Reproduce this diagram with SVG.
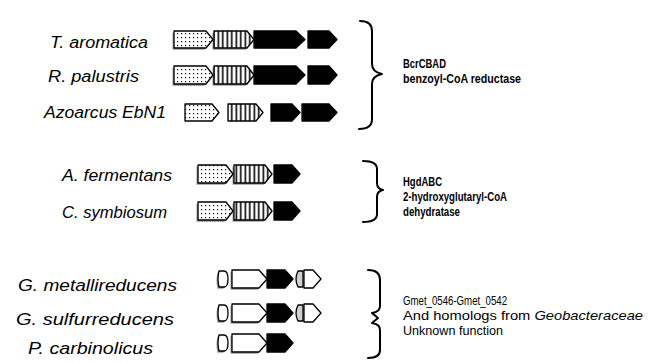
<svg xmlns="http://www.w3.org/2000/svg" width="649" height="363" viewBox="0 0 649 363">
<defs>
<pattern id="dots" width="4" height="4" patternUnits="userSpaceOnUse">
<rect width="4" height="4" fill="#fff"/>
<rect x="1" y="1" width="1.2" height="1.2" fill="#000"/>
</pattern>
<pattern id="stripes" width="4.5" height="6" patternUnits="userSpaceOnUse">
<rect width="4.5" height="6" fill="#fff"/>
<rect x="1.5" y="0" width="1.6" height="6" fill="#000"/>
</pattern>
</defs>
<style>
.lbl{font-family:"Liberation Sans",Arial,sans-serif;font-style:italic;font-size:16px;fill:#000}
.desc{font-family:"Liberation Sans",Arial,sans-serif;font-size:13px;fill:#000}
.b{font-weight:bold}
.g{stroke:#000;stroke-width:1.3;stroke-linejoin:round}
.dot{fill:url(#dots)}
.str{fill:url(#stripes)}
.blk{fill:#000}
.wht{fill:#fff}
.gry{fill:#d0d0d0}
.sh{fill:#9a9a9a;stroke:none;transform:translate(-1.5px,1.8px)}
.brace{fill:none;stroke:#000;stroke-width:2;stroke-linecap:round;stroke-linejoin:round}
</style>

<g id="label-taromatica"><text class="lbl" x="50" y="48" textLength="98" lengthAdjust="spacingAndGlyphs">T. aromatica</text></g>
<g id="label-rpalustris"><text class="lbl" x="48" y="82" textLength="91" lengthAdjust="spacingAndGlyphs">R. palustris</text></g>
<g id="label-azoarcus"><text class="lbl" x="44" y="118" textLength="122" lengthAdjust="spacingAndGlyphs">Azoarcus EbN1</text></g>
<g id="label-afermentans"><text class="lbl" x="62" y="181" textLength="110" lengthAdjust="spacingAndGlyphs">A. fermentans</text></g>
<g id="label-csymbiosum"><text class="lbl" x="62" y="218" textLength="105" lengthAdjust="spacingAndGlyphs">C. symbiosum</text></g>
<g id="label-gmetalli"><text class="lbl" x="18" y="291" textLength="159" lengthAdjust="spacingAndGlyphs">G. metallireducens</text></g>
<g id="label-gsulfur"><text class="lbl" x="16" y="325" textLength="158" lengthAdjust="spacingAndGlyphs">G. sulfurreducens</text></g>
<g id="label-pcarbin"><text class="lbl" x="28" y="354" textLength="125" lengthAdjust="spacingAndGlyphs">P. carbinolicus</text></g>

<g id="genes-taromatica">
<path class="sh" d="M174,31 H206 L213,39.5 L206,48 H174 Z M214,31 H247 L254,39.5 L247,48 H214 Z"/>
<path class="g dot" d="M174,31 H206 L213,39.5 L206,48 H174 Z"/>
<path class="g str" d="M214,31 H247 L254,39.5 L247,48 H214 Z"/>
<path class="g blk" d="M254,31 H296 L305,39.5 L296,48 H254 Z"/>
<path class="g blk" d="M308,31 H329 L337,39.5 L329,48 H308 Z"/>
</g>
<g id="genes-rpalustris">
<path class="sh" d="M174,66 H206 L213,75 L206,84 H174 Z M214,66 H247 L254,75 L247,84 H214 Z"/>
<path class="g dot" d="M174,66 H206 L213,75 L206,84 H174 Z"/>
<path class="g str" d="M214,66 H247 L254,75 L247,84 H214 Z"/>
<path class="g blk" d="M254,66 H296 L305,75 L296,84 H254 Z"/>
<path class="g blk" d="M308,66 H329 L337,75 L329,84 H308 Z"/>
</g>
<g id="genes-azoarcus">
<path class="g dot" d="M185,104 H212 L219,112.5 L212,121 H185 Z"/>
<path class="g str" d="M228,104 H256 L263,112.5 L256,121 H228 Z"/>
<path class="g blk" d="M271,104 H292 L300,112.5 L292,121 H271 Z"/>
<path class="g blk" d="M302,104 H329 L337,112.5 L329,121 H302 Z"/>
</g>
<g id="genes-afermentans">
<path class="sh" d="M198,165 H226 L233,174 L226,183 H198 Z M234,165 H265 L272,174 L265,183 H234 Z"/>
<path class="g dot" d="M198,165 H226 L233,174 L226,183 H198 Z"/>
<path class="g str" d="M234,165 H265 L272,174 L265,183 H234 Z"/>
<path class="g blk" d="M274,165 H292 L300,174 L292,183 H274 Z"/>
</g>
<g id="genes-csymbiosum">
<path class="sh" d="M198,202 H226 L233,211 L226,220 H198 Z M234,202 H265 L272,211 L265,220 H234 Z"/>
<path class="g dot" d="M198,202 H226 L233,211 L226,220 H198 Z"/>
<path class="g str" d="M234,202 H265 L272,211 L265,220 H234 Z"/>
<path class="g blk" d="M274,202 H292 L300,211 L292,220 H274 Z"/>
</g>
<g id="genes-gmetalli">
<path class="sh" d="M219,271 H224 Q228,271 228,279 Q228,287 224,287 H219 Q217,279 219,271 Z M232,270 H259 L267,279 L259,288 H232 Z"/>
<path class="g wht" d="M219,271 H224 Q228,271 228,279 Q228,287 224,287 H219 Q217,279 219,271 Z"/>
<path class="g wht" d="M232,270 H259 L267,279 L259,288 H232 Z"/>
<path class="g blk" d="M267,270 H285 L293,279 L285,288 H267 Z"/>
<path class="g gry" d="M298,271 H303 V287 H298 Q294,279 298,271 Z"/>
<path class="g wht" d="M304,270 H313 L321,279 L313,288 H304 Z"/>
</g>
<g id="genes-gsulfur">
<path class="sh" d="M219,305 H224 Q228,305 228,313 Q228,321 224,321 H219 Q217,313 219,305 Z M232,304 H259 L267,313 L259,322 H232 Z"/>
<path class="g wht" d="M219,305 H224 Q228,305 228,313 Q228,321 224,321 H219 Q217,313 219,305 Z"/>
<path class="g wht" d="M232,304 H259 L267,313 L259,322 H232 Z"/>
<path class="g blk" d="M267,304 H285 L293,313 L285,322 H267 Z"/>
<path class="g gry" d="M298,305 H303 V321 H298 Q294,313 298,305 Z"/>
<path class="g wht" d="M304,304 H313 L321,313 L313,322 H304 Z"/>
</g>
<g id="genes-pcarbin">
<path class="sh" d="M219,335 H224 Q228,335 228,343 Q228,351 224,351 H219 Q217,343 219,335 Z M232,334 H259 L267,343 L259,352 H232 Z"/>
<path class="g wht" d="M219,335 H224 Q228,335 228,343 Q228,351 224,351 H219 Q217,343 219,335 Z"/>
<path class="g wht" d="M232,334 H259 L267,343 L259,352 H232 Z"/>
<path class="g blk" d="M267,334 H285 L293,343 L285,352 H267 Z"/>
</g>

<g id="connectors">
<path class="brace" d="M360,21 Q372,21 372,31 L372,64 Q372,72 382,74 Q372,76 372,84 L372,119 Q372,129 359,129"/>
<path class="brace" d="M363,161 Q377,161 377,169 L377,183 Q377,189 383,190 Q377,191 377,197 L377,214 Q377,222 363,222"/>
<path class="brace" d="M368,270 Q380,270 380,280 L380,306 Q380,312 372,313 L378,318 L372,323 Q380,324 380,330 L380,350 Q380,358 368,358"/>
</g>

<g id="desc-bcr">
<text class="desc b" x="403" y="68" textLength="43" lengthAdjust="spacingAndGlyphs">BcrCBAD</text>
<text class="desc b" x="403" y="83" textLength="118" lengthAdjust="spacingAndGlyphs">benzoyl-CoA reductase</text>
</g>
<g id="desc-hgd">
<text class="desc b" x="403" y="186" textLength="39" lengthAdjust="spacingAndGlyphs">HgdABC</text>
<text class="desc b" x="403" y="201" textLength="104" lengthAdjust="spacingAndGlyphs">2-hydroxyglutaryl-CoA</text>
<text class="desc b" x="403" y="216" textLength="57" lengthAdjust="spacingAndGlyphs">dehydratase</text>
</g>
<g id="desc-gmet">
<text class="desc" x="403" y="305" textLength="104" lengthAdjust="spacingAndGlyphs">Gmet_0546-Gmet_0542</text>
<text class="desc" x="403" y="320" textLength="240" lengthAdjust="spacingAndGlyphs">And homologs from <tspan font-style="italic">Geobacteraceae</tspan></text>
<text class="desc" x="403" y="335" textLength="100" lengthAdjust="spacingAndGlyphs">Unknown function</text>
</g>
</svg>
